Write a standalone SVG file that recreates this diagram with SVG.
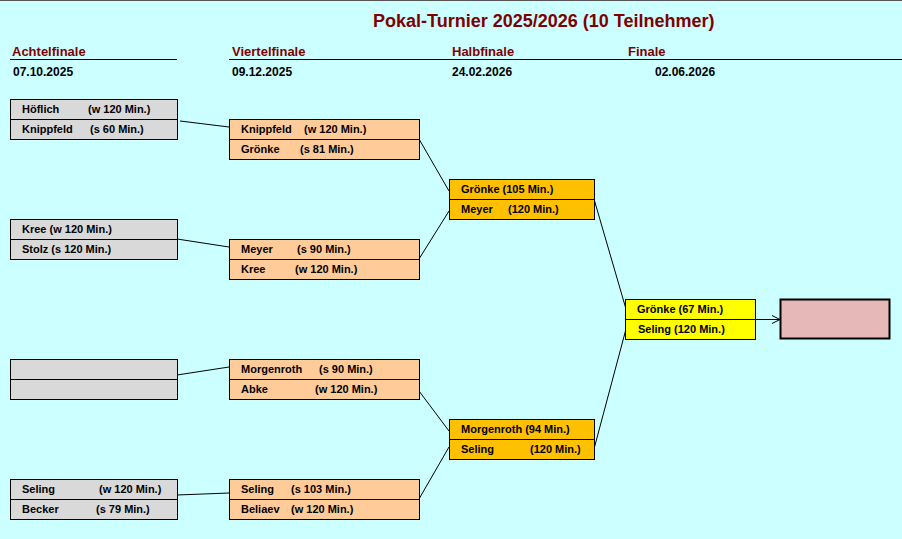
<svg xmlns="http://www.w3.org/2000/svg" width="902" height="539" viewBox="0 0 902 539">
<style>
text{font-family:"Liberation Sans",Arial,sans-serif;font-weight:bold;font-size:11px;fill:#000}
.h{font-size:13px;fill:#7f0000}
.d{font-size:12px}
.t{font-size:18px;fill:#7f0000}
.b rect{stroke:#000;stroke-width:1}
.g rect{fill:#d9d9d9}.o rect{fill:#ffcc99}.a rect{fill:#ffc000}.y rect{fill:#ffff00}
#conn line{stroke:#000;stroke-width:1}
</style>
<defs><marker id="ar" markerWidth="10" markerHeight="10" refX="9" refY="5" orient="auto" markerUnits="userSpaceOnUse"><path d="M1,1L9,5L1,9" fill="none" stroke="#000"/></marker></defs>
<rect width="902" height="539" fill="#ccffff"/>
<line x1="0" y1="0.5" x2="902" y2="0.5" stroke="#555"/>
<text class="t" x="373" y="27">Pokal-Turnier 2025/2026 (10 Teilnehmer)</text>
<g id="headers">
<text class="h" x="12" y="56">Achtelfinale</text>
<text class="h" x="232" y="56">Viertelfinale</text>
<text class="h" x="452" y="56">Halbfinale</text>
<text class="h" x="628" y="56">Finale</text>
<line x1="10" y1="59.5" x2="177" y2="59.5" stroke="#000"/>
<line x1="229" y1="59.5" x2="902" y2="59.5" stroke="#000"/>
<text class="d" x="13" y="76">07.10.2025</text>
<text class="d" x="232" y="76">09.12.2025</text>
<text class="d" x="452" y="76">24.02.2026</text>
<text class="d" x="655" y="76">02.06.2026</text>
</g>
<g id="conn">
<line x1="180" y1="121" x2="229" y2="127"/>
<line x1="177" y1="239" x2="229" y2="247"/>
<line x1="177" y1="375" x2="229" y2="367"/>
<line x1="177" y1="495" x2="229" y2="493"/>
<line x1="419" y1="139" x2="449" y2="191"/>
<line x1="419" y1="259" x2="449" y2="211"/>
<line x1="419" y1="391" x2="449" y2="431"/>
<line x1="419" y1="499" x2="449" y2="447"/>
<line x1="594" y1="199" x2="626" y2="309"/>
<line x1="594" y1="449" x2="626" y2="329"/>
<line x1="755" y1="319.5" x2="780" y2="319.5" marker-end="url(#ar)"/>
</g>
<g id="af1" class="b g"><rect x="10.5" y="99.5" width="167" height="20"/><rect x="10.5" y="119.5" width="167" height="20"/><text x="22" y="113">Höflich</text><text x="88" y="113">(w 120 Min.)</text><text x="22" y="133">Knippfeld</text><text x="90" y="133">(s 60 Min.)</text></g>
<g id="af2" class="b g"><rect x="10.5" y="219.5" width="167" height="20"/><rect x="10.5" y="239.5" width="167" height="20"/><text x="22" y="233">Kree  (w 120 Min.)</text><text x="22" y="253">Stolz  (s 120 Min.)</text></g>
<g id="af3" class="b g"><rect x="10.5" y="359.5" width="167" height="20"/><rect x="10.5" y="379.5" width="167" height="20"/></g>
<g id="af4" class="b g"><rect x="10.5" y="479.5" width="167" height="20"/><rect x="10.5" y="499.5" width="167" height="20"/><text x="22" y="493">Seling</text><text x="99" y="493">(w 120 Min.)</text><text x="22" y="513">Becker</text><text x="96" y="513">(s 79 Min.)</text></g>
<g id="vf1" class="b o"><rect x="229.5" y="119.5" width="190" height="20"/><rect x="229.5" y="139.5" width="190" height="20"/><text x="241" y="133">Knippfeld</text><text x="304" y="133">(w 120 Min.)</text><text x="241" y="153">Grönke</text><text x="300" y="153">(s 81 Min.)</text></g>
<g id="vf2" class="b o"><rect x="229.5" y="239.5" width="190" height="20"/><rect x="229.5" y="259.5" width="190" height="20"/><text x="241" y="253">Meyer</text><text x="297" y="253">(s 90 Min.)</text><text x="241" y="273">Kree</text><text x="295" y="273">(w 120 Min.)</text></g>
<g id="vf3" class="b o"><rect x="229.5" y="359.5" width="190" height="20"/><rect x="229.5" y="379.5" width="190" height="20"/><text x="241" y="373">Morgenroth</text><text x="319" y="373">(s 90 Min.)</text><text x="241" y="393">Abke</text><text x="315" y="393">(w 120 Min.)</text></g>
<g id="vf4" class="b o"><rect x="229.5" y="479.5" width="190" height="20"/><rect x="229.5" y="499.5" width="190" height="20"/><text x="241" y="493">Seling</text><text x="291" y="493">(s 103 Min.)</text><text x="241" y="513">Beliaev</text><text x="291" y="513">(w 120 Min.)</text></g>
<g id="hf1" class="b a"><rect x="449.5" y="179.5" width="145" height="20"/><rect x="449.5" y="199.5" width="145" height="20"/><text x="461" y="193">Grönke  (105 Min.)</text><text x="461" y="213">Meyer</text><text x="508" y="213">(120 Min.)</text></g>
<g id="hf2" class="b a"><rect x="449.5" y="419.5" width="145" height="20"/><rect x="449.5" y="439.5" width="145" height="20"/><text x="461" y="433">Morgenroth (94 Min.)</text><text x="461" y="453">Seling</text><text x="530" y="453">(120 Min.)</text></g>
<g id="fin" class="b y"><rect x="625.5" y="299.5" width="130" height="20"/><rect x="625.5" y="319.5" width="130" height="20"/><text x="637" y="313">Grönke  (67 Min.)</text><text x="638" y="333">Seling (120 Min.)</text></g>
<g id="winner"><rect x="780.5" y="299.5" width="109" height="39" fill="#e6b8b7" stroke="#000" stroke-width="2"/></g>
</svg>
